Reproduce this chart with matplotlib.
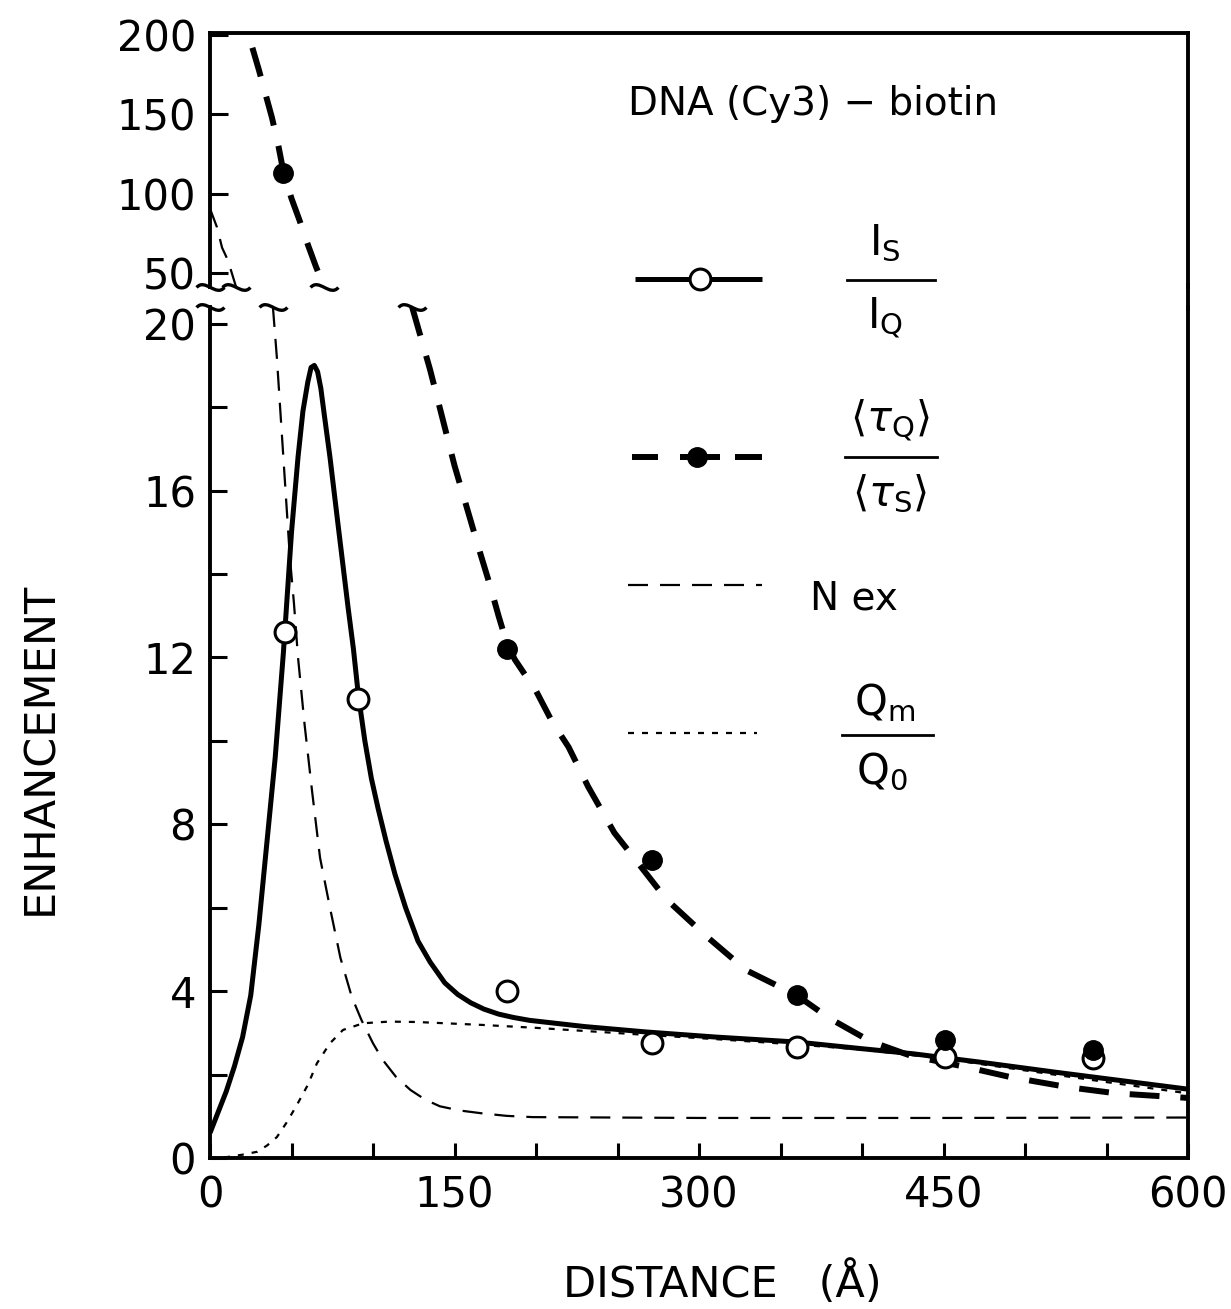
import matplotlib
matplotlib.use("Agg")
from matplotlib import pyplot as plt
from matplotlib.path import Path

plt.rcParams['font.family'] = ['DejaVu Sans']
plt.rcParams['mathtext.fontset'] = 'dejavusans'

# ---- data (distance in A, enhancement) ----
# I_S / I_Q  measured points (open circles)
x_is = [46, 91, 182, 271, 360, 451, 542]
y_is = [12.6, 11.0, 4.0, 2.75, 2.65, 2.42, 2.4]

# <tau_Q>/<tau_S> measured points (filled circles); first point sits on upper panel
x_tau = [45, 182, 271, 360, 451, 542]
y_tau = [113, 12.2, 7.15, 3.9, 2.83, 2.6]

# I_S / I_Q theory curve (solid)
x_is_fit = [0, 5, 10, 15, 20, 25, 30, 35, 40, 45, 50, 54, 57, 60, 62, 64, 66, 68, 70,
            73.6, 78.5, 84.7, 88, 91, 95, 99, 103, 108, 113.5, 120, 127.6, 135, 144,
            152, 160, 168, 177, 186, 196, 230, 268, 310, 360, 400, 431, 472, 520, 560,
            600]
y_is_fit = [0.6, 1.1, 1.6, 2.2, 2.9, 3.9, 5.6, 7.6, 9.6, 12.1, 15.0, 16.8, 17.9, 18.6,
            18.95, 19.0, 18.85, 18.45, 17.85, 16.8, 15.2, 13.2, 12.2, 11.1, 10.0, 9.1,
            8.4, 7.6, 6.8, 6.0, 5.2, 4.7, 4.2, 3.92, 3.72, 3.57, 3.45, 3.37, 3.3, 3.15,
            3.02, 2.9, 2.78, 2.62, 2.5, 2.3, 2.05, 1.85, 1.65]

# <tau_Q>/<tau_S> theory curve (thick dashed), upper and lower panel parts
x_tau_hi = [26, 30, 34, 38, 42, 45, 50, 55, 60, 65, 70]
y_tau_hi = [192, 178, 163, 148, 130, 114, 97, 83, 68, 54, 41.5]
x_tau_lo = [124, 135, 150, 165, 172, 177, 182, 187, 193, 200, 210, 220, 232, 248, 255,
            264, 280, 305, 329, 360, 380, 405, 430, 464, 491, 526, 556, 600]
y_tau_lo = [20.4, 18.9, 16.6, 14.6, 13.7, 13.0, 12.35, 11.95, 11.6, 11.2, 10.45, 9.85,
            8.9, 7.8, 7.45, 7.0, 6.2, 5.3, 4.5, 3.9, 3.35, 2.8, 2.45, 2.18, 1.94, 1.7,
            1.55, 1.44]

# N_ex (thin dashed), upper and lower panel parts
x_ex_hi = [0, 4.3, 7.4, 11, 16]
y_ex_hi = [90.6, 78.8, 66, 58, 41.2]
x_ex_lo = [38.6, 41, 43, 45, 47, 49, 51.5, 54, 58, 62.6, 67.5, 73.6, 80, 87, 93, 100,
           106, 114, 123, 132, 141, 153, 167, 182, 198, 300, 450, 600]
y_ex_lo = [20.4, 19.2, 18.0, 16.8, 15.6, 14.4, 13.3, 12.0, 10.4, 8.8, 7.2, 6.0, 4.8,
           3.86, 3.3, 2.75, 2.35, 1.95, 1.63, 1.4, 1.24, 1.14, 1.07, 1.01, 0.98, 0.96,
           0.96, 0.97]

# Q_m / Q_0 (dotted)
x_q = [0, 10, 20, 29, 35, 41, 47, 53, 60, 65.6, 73.6, 81.6, 94, 110, 127, 167, 200,
       268, 310, 360, 400, 450, 500, 550, 600]
y_q = [0.0, 0.02, 0.08, 0.15, 0.3, 0.5, 0.85, 1.25, 1.75, 2.27, 2.75, 3.07, 3.23,
       3.27, 3.26, 3.19, 3.12, 2.95, 2.85, 2.72, 2.6, 2.38, 2.1, 1.82, 1.55]

lo_ylim = (0, 20.4)
hi_ylim = (41.2, 201.3)

# ---- figure ----
W, H = 1231, 1309
fig = plt.figure(figsize=(W / 100, H / 100), dpi=100)

def box(l, t, r, b):
    return [l / W, 1 - b / H, (r - l) / W, (b - t) / H]

ax_lo = fig.add_axes(box(210, 307, 1188, 1158))
ax_hi = fig.add_axes(box(210, 33, 1188, 287))

s_solid = dict(color='black', lw=3.6, solid_capstyle='butt', solid_joinstyle='round')
s_tau = dict(color='black', lw=4.3, dashes=(5, 3.5))
s_ex = dict(color='black', lw=1.6, dashes=(9, 5.4))
s_q = dict(color='black', lw=1.6, dashes=(2.7, 3.6))

ax_lo.plot(x_is_fit, y_is_fit, **s_solid)
ax_lo.plot(x_tau_lo, y_tau_lo, **s_tau)
ax_lo.plot(x_ex_lo, y_ex_lo, **s_ex)
ax_lo.plot(x_q, y_q, **s_q)
ax_lo.plot(x_is, y_is, 'o', ms=15, mfc='white', mec='black', mew=2.2, zorder=5)
ax_lo.plot(x_tau[1:], y_tau[1:], 'o', ms=14, mfc='black', mec='black', zorder=5)

ax_hi.plot(x_tau_hi, y_tau_hi, **s_tau)
ax_hi.plot(x_ex_hi, y_ex_hi, **s_ex)
ax_hi.plot(x_tau[:1], y_tau[:1], 'o', ms=14, mfc='black', mec='black', zorder=5)

for ax in (ax_lo, ax_hi):
    ax.set_xlim(0, 600)
    for sp in ax.spines.values():
        sp.set_linewidth(2.8)

ax_lo.set_ylim(*lo_ylim)
ax_hi.set_ylim(*hi_ylim)
ax_lo.spines['top'].set_visible(False)
ax_hi.spines['bottom'].set_visible(False)

ax_lo.set_xticks([0, 150, 300, 450, 600])
ax_lo.set_xticks([50, 100, 200, 250, 350, 400, 500, 550], minor=True)
ax_lo.set_yticks([0, 4, 8, 12, 16, 20])
ax_lo.set_yticks([2, 6, 10, 14, 18], minor=True)
ax_lo.tick_params(axis='both', which='both', direction='in', width=2.2,
                  labelsize=30, top=False, right=False)
ax_lo.tick_params(axis='x', which='both', length=11, pad=12)
ax_lo.tick_params(axis='y', which='both', length=12, pad=10)

ax_hi.set_xticks([])
ax_hi.set_yticks([50, 100, 150, 200])
ax_hi.tick_params(axis='y', direction='in', width=2.2, length=13, labelsize=30, pad=10)

# break marks (small tildes)
tilde = Path([(-1, 0), (-0.4, 0.7), (0.4, -0.7), (1, 0)],
             [Path.MOVETO, Path.CURVE4, Path.CURVE4, Path.CURVE4])
mk = dict(marker=tilde, ms=20, mew=2.4, mfc='none', mec='black', ls='none',
          clip_on=False, zorder=6)
ax_hi.plot([0, x_ex_hi[-1], x_tau_hi[-1]], [hi_ylim[0]] * 3, **mk)
ax_lo.plot([0, x_ex_lo[0], x_tau_lo[0]], [lo_ylim[1]] * 3, **mk)

# overlay in pixel coordinates for texts, legend and right frame joint
ov = fig.add_axes([0, 0, 1, 1])
ov.set_xlim(0, W)
ov.set_ylim(H, 0)
ov.axis('off')

ov.plot([1188, 1188], [285, 309], color='black', lw=2.8)

ov.text(628, 104, 'DNA (Cy3) \u2212 biotin', fontsize=28, ha='left', va='center')
ov.text(40, 748, 'ENHANCEMENT', fontsize=31, rotation=90, ha='center', va='center')
ov.text(722, 1284, 'DISTANCE   (\u00c5)', fontsize=31, ha='center', va='center')

# legend
ov.plot([635, 762], [279, 279], **s_solid)
ov.plot([700], [279], 'o', ms=15, mfc='white', mec='black', mew=2.2)
ov.plot([847, 935], [280, 280], color='black', lw=2)
ov.text(885, 243, r'$\mathrm{I}_{\mathrm{S}}$', fontsize=30, ha='center', va='center')
ov.text(885, 318, r'$\mathrm{I}_{\mathrm{Q}}$', fontsize=30, ha='center', va='center')

for xa, xb in [(632, 658), (680, 720), (735, 762)]:
    ov.plot([xa, xb], [457, 457], color='black', lw=4.3, solid_capstyle='butt')
ov.plot([697], [457], 'o', ms=14, mfc='black', mec='black')
ov.plot([845, 937], [457, 457], color='black', lw=2)
ov.text(890, 420, r'$\langle\tau_{\mathrm{Q}}\rangle$', fontsize=30, ha='center', va='center')
ov.text(890, 494, r'$\langle\tau_{\mathrm{S}}\rangle$', fontsize=30, ha='center', va='center')

ov.plot([628, 762], [585, 585], **s_ex)
ov.text(810, 609, 'N ex', fontsize=28, ha='left', va='baseline')

ov.plot([628, 757], [733, 733], **s_q)
ov.plot([842, 933], [735, 735], color='black', lw=2)
ov.text(885, 703, r'$\mathrm{Q}_{\mathrm{m}}$', fontsize=30, ha='center', va='center')
ov.text(882, 772, r'$\mathrm{Q}_{0}$', fontsize=30, ha='center', va='center')

plt.savefig('out.png', dpi=100)
